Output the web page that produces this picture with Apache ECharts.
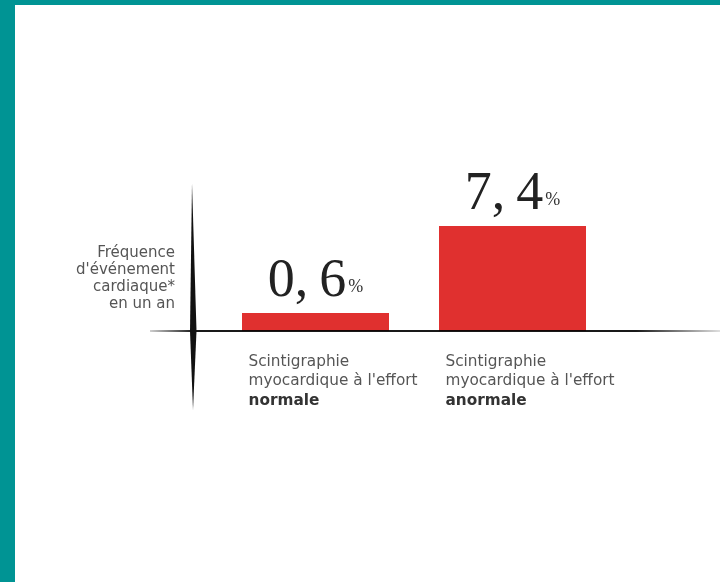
<!DOCTYPE html>
<html>
<head>
<meta charset="utf-8">
<script src="https://cdn.jsdelivr.net/npm/echarts@6/dist/echarts.min.js"></script>
<style>
html,body{margin:0;padding:0;background:#fff;}
#c{width:720px;height:582px;}
</style>
</head>
<body>
<div id="c"></div>
<script>
const categories = ['normale', 'anormale'];
const labelPrefixLines = ['Scintigraphie', "myocardique à l'effort"];
const values = [0.6, 7.4];
const yAxisTitle = ['Fréquence', "d'événement", 'cardiaque*', 'en un an'];

const chart = echarts.init(document.getElementById('c'), null, {renderer: 'canvas'});
const option = {
  backgroundColor: '#ffffff',
  animation: false,
  grid: {left: 217, width: 394, top: 192.8, height: 138.2},
  xAxis: {
    type: 'category',
    data: categories,
    axisLine: {show: false},
    axisTick: {show: false},
    axisLabel: {
      margin: 21,
      align: 'center',
      width: 134,
      overflow: 'none',
      formatter: function (v) {
        return '{a|' + labelPrefixLines[0] + '}\n{a|' + labelPrefixLines[1] + '}\n{b|' + v + '}';
      },
      rich: {
        a: {fontFamily: 'DejaVu Sans', fontSize: 15.3, color: '#555', lineHeight: 19.5, align: 'left'},
        b: {fontFamily: 'DejaVu Sans', fontSize: 15.3, fontWeight: 'bold', color: '#333', lineHeight: 19.5, align: 'left'}
      }
    }
  },
  yAxis: {
    type: 'value',
    min: -0.8,
    max: 10,
    startValue: -0.8,
    axisLine: {show: false},
    axisTick: {show: false},
    axisLabel: {show: false},
    splitLine: {show: false}
  },
  series: [{
    type: 'bar',
    data: values,
    barWidth: 147,
    itemStyle: {color: '#E0302F'},
    label: {
      show: true,
      position: 'top',
      distance: 4,
      formatter: function (p) {
        return '{n|' + String(p.value).replace('.', ',\u2009') + '}{p|%}';
      },
      rich: {
        n: {fontFamily: 'Liberation Serif', fontSize: 54, lineHeight: 54, color: '#222'},
        p: {fontFamily: 'Liberation Serif', fontSize: 18, color: '#333', padding: [10, 0, 0, 2]}
      }
    }
  }],
  graphic: [
    {type: 'rect', shape: {x: 0, y: 0, width: 720, height: 5}, style: {fill: '#009494'}, silent: true},
    {type: 'rect', shape: {x: 0, y: 0, width: 15, height: 582}, style: {fill: '#009494'}, silent: true},
    {type: 'text', x: 175, y: 244.5,
      style: {text: yAxisTitle.join('\n'), align: 'right', verticalAlign: 'top',
        font: '15px "DejaVu Sans"', lineHeight: 17, fill: '#555'}, silent: true},
    {type: 'line', shape: {x1: 150, y1: 331, x2: 720, y2: 331},
      style: {lineWidth: 2, stroke: new echarts.graphic.LinearGradient(0, 0, 1, 0, [
        {offset: 0, color: 'rgba(0,0,0,0.15)'},
        {offset: 0.08, color: 'rgba(0,0,0,0.9)'},
        {offset: 0.85, color: 'rgba(0,0,0,0.9)'},
        {offset: 1, color: 'rgba(0,0,0,0.1)'}
      ])}, silent: true, z: 5},
    {type: 'polygon', shape: {points: [[192, 183], [196.5, 331], [193, 410], [190, 331]]},
      style: {fill: '#111'}, silent: true, z: 6}
  ]
};
chart.setOption(option);
</script>
</body>
</html>
